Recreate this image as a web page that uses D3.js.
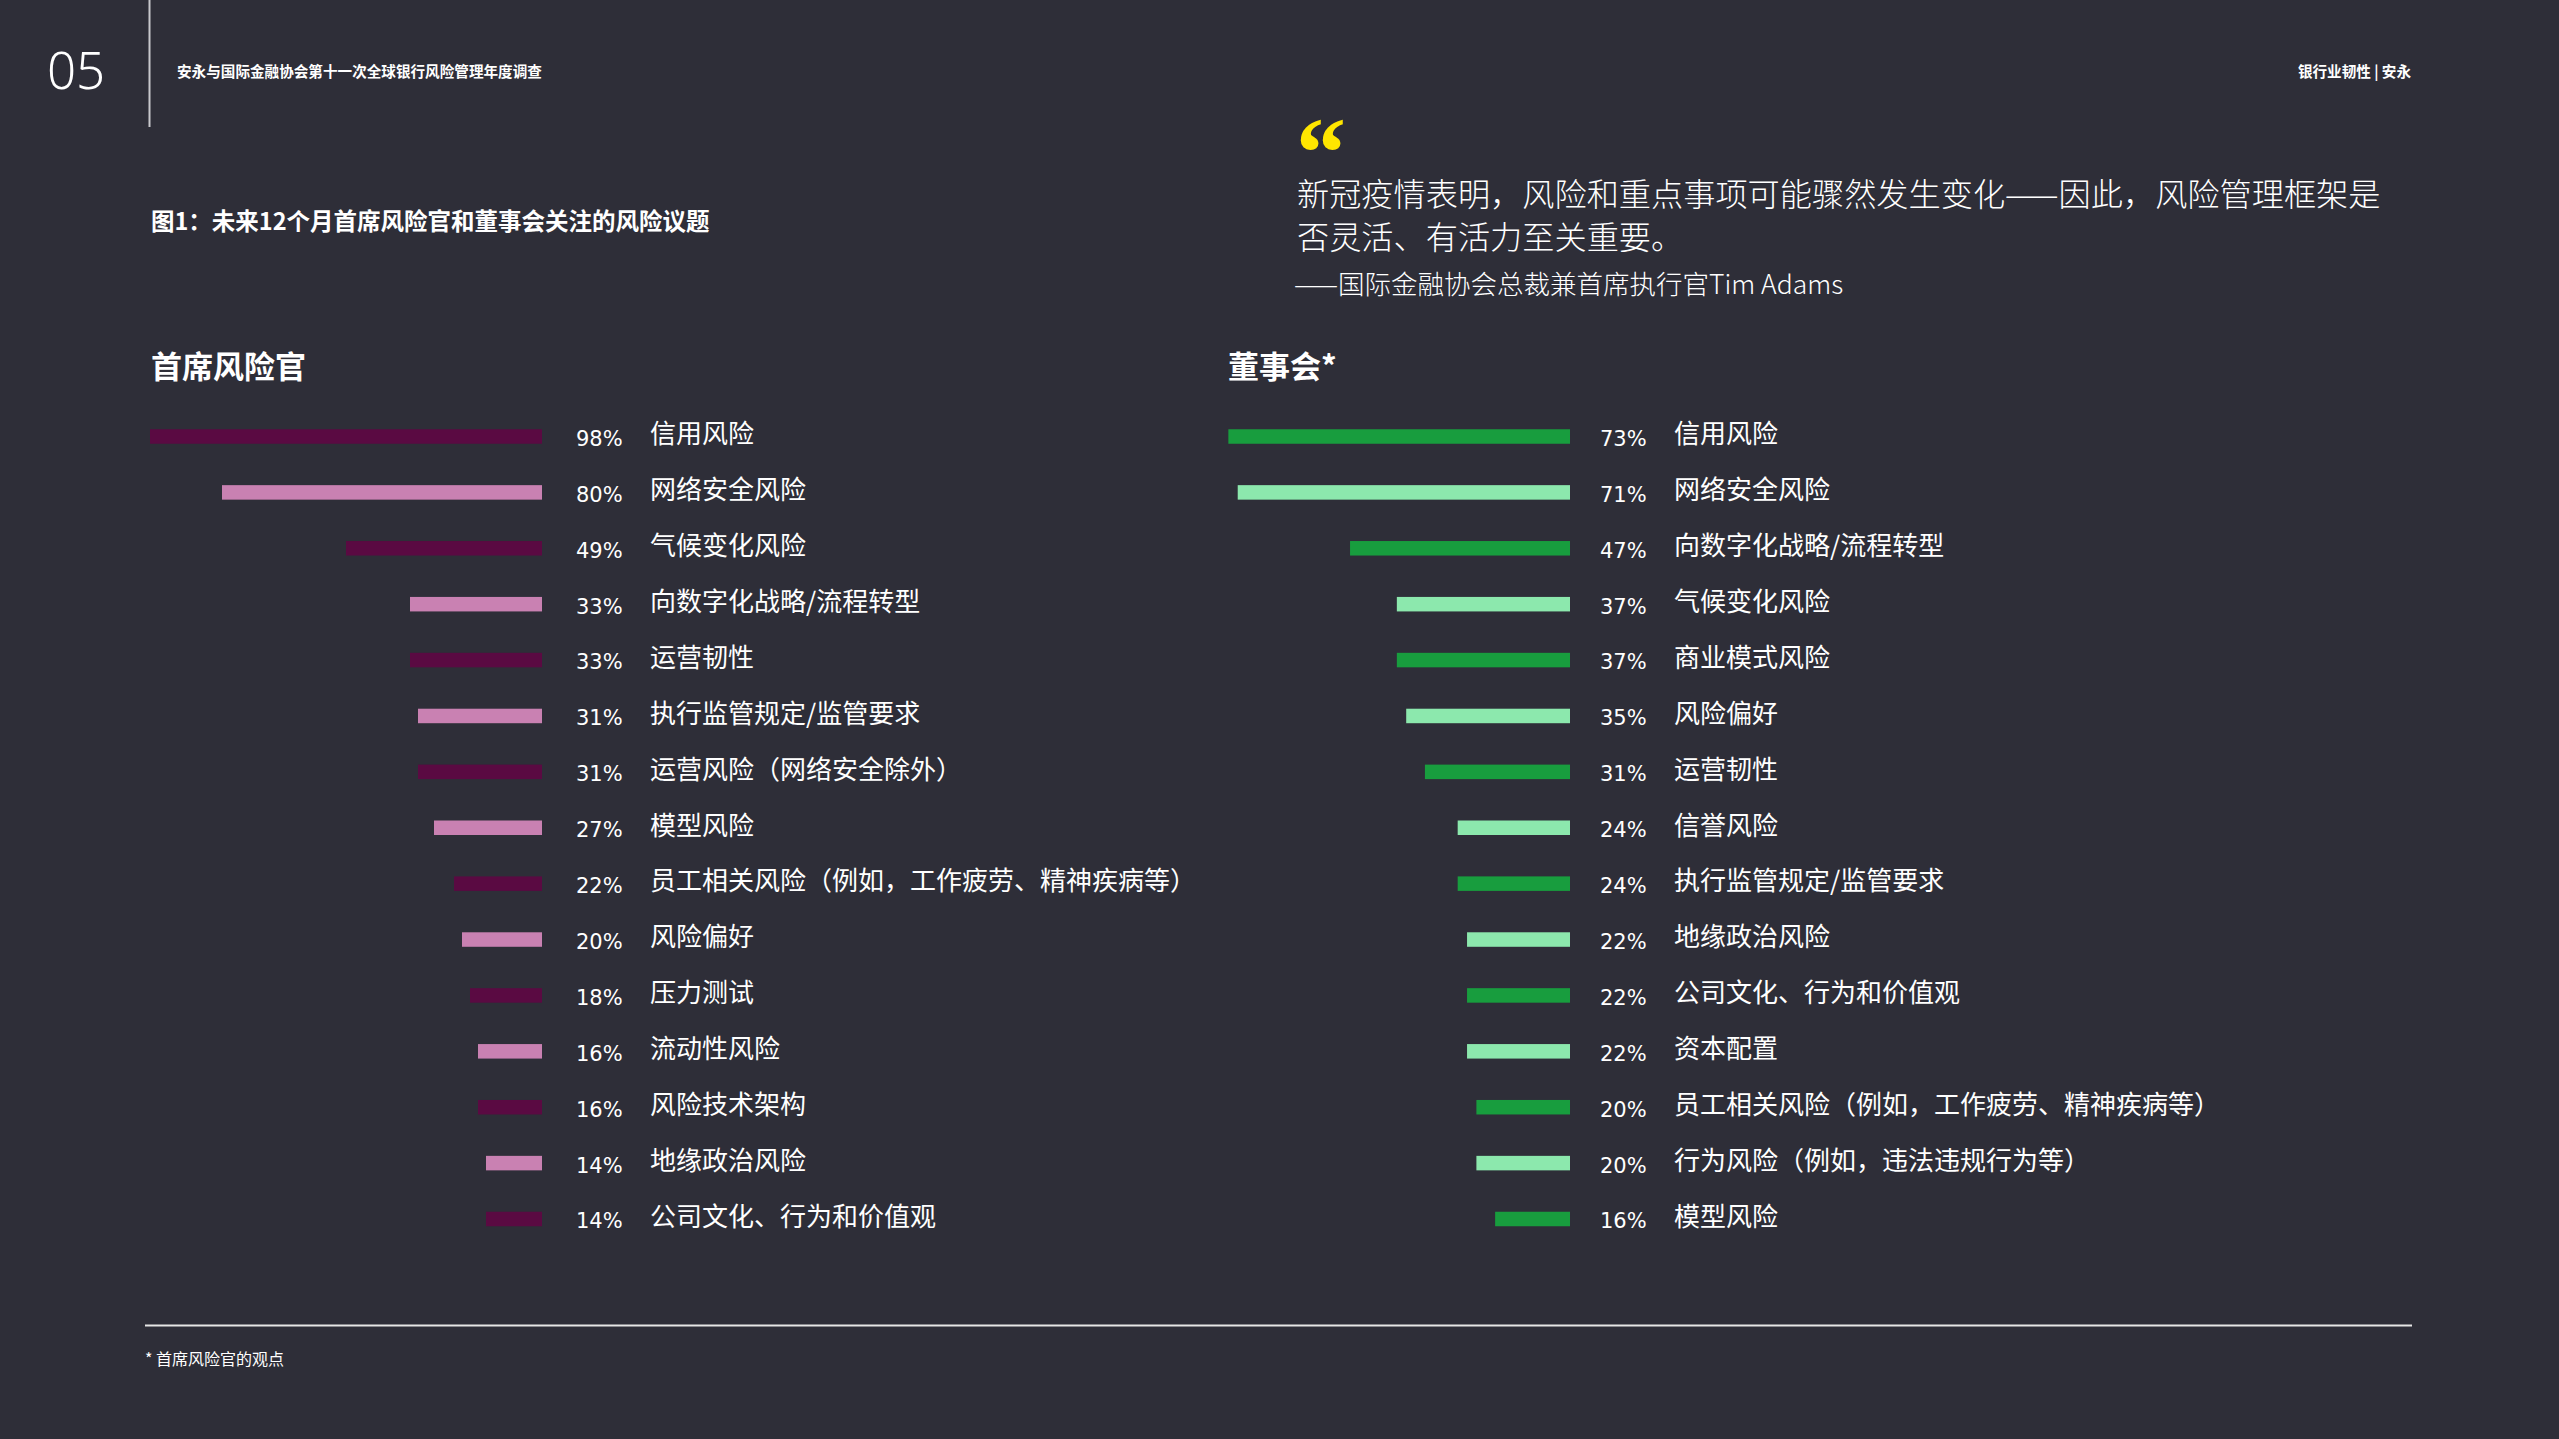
<!DOCTYPE html>
<html>
<head>
<meta charset="utf-8">
<script src="https://cdn.jsdelivr.net/npm/d3@7"></script>
<style>
  html, body { margin: 0; padding: 0; background: #2e2e38; }
  svg { display: block; }
</style>
</head>
<body>
<div id="chart"></div>
<script>
// chart data
const croLabels = ["信用风险", "网络安全风险", "气候变化风险", "向数字化战略/流程转型", "运营韧性",
    "执行监管规定/监管要求", "运营风险（网络安全除外）", "模型风险", "员工相关风险（例如，工作疲劳、精神疾病等）",
    "风险偏好", "压力测试", "流动性风险", "风险技术架构", "地缘政治风险", "公司文化、行为和价值观"];
const croValues = [98, 80, 49, 33, 33, 31, 31, 27, 22, 20, 18, 16, 16, 14, 14];

const boardLabels = ["信用风险", "网络安全风险", "向数字化战略/流程转型", "气候变化风险", "商业模式风险",
    "风险偏好", "运营韧性", "信誉风险", "执行监管规定/监管要求", "地缘政治风险", "公司文化、行为和价值观",
    "资本配置", "员工相关风险（例如，工作疲劳、精神疾病等）", "行为风险（例如，违法违规行为等）", "模型风险"];
const boardValues = [73, 71, 47, 37, 37, 35, 31, 24, 24, 22, 22, 22, 20, 20, 16];

const croColors = ["#5a0a42", "#c981b2"];
const boardColors = ["#189d3e", "#8ce8ad"];

const width = 2559;
const height = 1439;
const cjk = "'Noto Sans CJK SC', 'Noto Sans', sans-serif";

const svg = d3.select("#chart").append("svg")
    .attr("width", width)
    .attr("height", height)
    .style("background", "#2e2e38");

// header
svg.append("text")
    .attr("x", 47).attr("y", 89)
    .attr("fill", "#fff")
    .style("font", "300 51px 'Noto Sans', sans-serif")
    .text("05");

svg.append("line")
    .attr("x1", 149.5).attr("x2", 149.5)
    .attr("y1", 0).attr("y2", 127)
    .attr("stroke", "#c8c8cc").attr("stroke-width", 2);

svg.append("text")
    .attr("x", 177).attr("y", 77)
    .attr("fill", "#fff")
    .style("font", `bold 14.6px ${cjk}`)
    .text("安永与国际金融协会第十一次全球银行风险管理年度调查");

svg.append("text")
    .attr("x", 2411).attr("y", 77)
    .attr("text-anchor", "end")
    .attr("fill", "#fff")
    .style("font", `bold 14.6px ${cjk}`)
    .text("银行业韧性 | 安永");

svg.append("text")
    .attr("x", 151).attr("y", 230)
    .attr("fill", "#fff")
    .style("font", `bold 23.5px ${cjk}`)
    .text("图1：未来12个月首席风险官和董事会关注的风险议题");

// quote
svg.append("text")
    .attr("x", 1296).attr("y", 186)
    .attr("fill", "#ffe600")
    .style("font", "bold 100px 'Liberation Serif', serif")
    .text("\u201C");

const quote = svg.append("text")
    .attr("fill", "#fff")
    .style("font", `300 32.2px ${cjk}`);
quote.append("tspan").attr("x", 1297).attr("y", 206)
    .text("新冠疫情表明，风险和重点事项可能骤然发生变化——因此，风险管理框架是");
quote.append("tspan").attr("x", 1297).attr("y", 249)
    .text("否灵活、有活力至关重要。");

svg.append("text")
    .attr("x", 1294).attr("y", 294)
    .attr("fill", "#fff")
    .style("font", `300 26.5px ${cjk}`)
    .text("——国际金融协会总裁兼首席执行官Tim Adams");

// panel titles
svg.append("text")
    .attr("x", 151).attr("y", 378)
    .attr("fill", "#fff")
    .style("font", `bold 31px ${cjk}`)
    .text("首席风险官");

svg.append("text")
    .attr("x", 1228).attr("y", 378)
    .attr("fill", "#fff")
    .style("font", `bold 31px ${cjk}`)
    .text("董事会*");

// rows
const y = d3.scalePoint()
    .domain(d3.range(croLabels.length))
    .range([436.5, 1219]);
const barH = 14.5;

function drawPanel(labels, values, colors, right, span, pctX, labelX) {
    const x = d3.scaleLinear().domain([0, 100]).range([0, span]);
    const rows = labels.map((l, i) => ({ label: l, value: values[i], i: i }));
    const g = svg.append("g");

    g.selectAll("rect")
        .data(rows)
        .join("rect")
        .attr("x", d => right - x(d.value))
        .attr("y", d => y(d.i) - barH / 2)
        .attr("width", d => x(d.value))
        .attr("height", barH)
        .attr("fill", d => colors[d.i % 2]);

    g.selectAll("text.pct")
        .data(rows)
        .join("text")
        .attr("class", "pct")
        .attr("x", pctX)
        .attr("y", d => y(d.i) + 9.4)
        .attr("fill", "#fff")
        .style("font", "21px 'DejaVu Sans', sans-serif")
        .text(d => d.value + "%");

    g.selectAll("text.lbl")
        .data(rows)
        .join("text")
        .attr("class", "lbl")
        .attr("x", labelX)
        .attr("y", d => y(d.i) + 6.8)
        .attr("fill", "#fff")
        .style("font", `26px ${cjk}`)
        .text(d => d.label);
}

drawPanel(croLabels, croValues, croColors, 542, 400, 576, 650);
drawPanel(boardLabels, boardValues, boardColors, 1570, 468, 1600, 1674);

// footer
svg.append("line")
    .attr("x1", 145).attr("x2", 2412)
    .attr("y1", 1325.5).attr("y2", 1325.5)
    .attr("stroke", "#e6e6e6").attr("stroke-width", 2);

svg.append("text")
    .attr("x", 145).attr("y", 1365)
    .attr("fill", "#fff")
    .style("font", `16px ${cjk}`)
    .text("* 首席风险官的观点");
</script>
</body>
</html>
